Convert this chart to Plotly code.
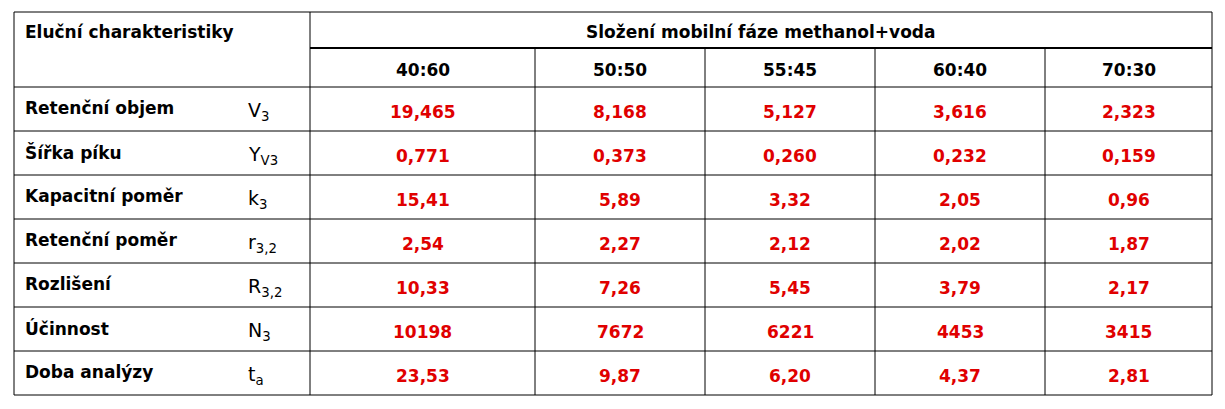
import plotly.graph_objects as go

compositions = ["40:60", "50:50", "55:45", "60:40", "70:30"]
row_names = ["Retenční objem", "Šířka píku", "Kapacitní poměr", "Retenční poměr",
             "Rozlišení", "Účinnost", "Doba analýzy"]
symbols = ["V<sub>3</sub>", "Y<sub>V3</sub>", "k<sub>3</sub>", "r<sub>3,2</sub>",
           "R<sub>3,2</sub>", "N<sub>3</sub>", "t<sub>a</sub>"]
values = [
    ["19,465", "8,168", "5,127", "3,616", "2,323"],
    ["0,771", "0,373", "0,260", "0,232", "0,159"],
    ["15,41", "5,89", "3,32", "2,05", "0,96"],
    ["2,54", "2,27", "2,12", "2,02", "1,87"],
    ["10,33", "7,26", "5,45", "3,79", "2,17"],
    ["10198", "7672", "6221", "4453", "3415"],
    ["23,53", "9,87", "6,20", "4,37", "2,81"],
]

# page has an 8px body margin, so the figure is drawn 16px smaller and shifted
OFF = 8
W, H = 1225 - 2 * OFF, 409 - 2 * OFF
col_x = [x - OFF for x in [14, 310, 535, 705, 875, 1045, 1212]]
top, mid, hdr = 12 - OFF, 48 - OFF, 87 - OFF
row_h = 44
row_y = [hdr + i * row_h for i in range(len(row_names) + 1)]
bottom = row_y[-1]

font = "DejaVu Sans"
shapes = []
def line(x0, y0, x1, y1, w=1):
    shapes.append(dict(type="line", x0=x0, y0=y0, x1=x1, y1=y1,
                       line=dict(color="black", width=w)))

line(col_x[0], top, col_x[-1], top)
line(col_x[0], bottom, col_x[-1], bottom)
line(col_x[0], top, col_x[0], bottom)
line(col_x[-1], top, col_x[-1], bottom)
line(col_x[1], top, col_x[1], bottom)
line(col_x[1], mid, col_x[-1], mid, 2)
for x in col_x[2:-1]:
    line(x, mid, x, bottom)
for y in row_y[:-1]:
    line(col_x[0], y, col_x[-1], y)

ann = []
def text(x, y, s, color="black", size=17, bold=True, xanchor="center"):
    ann.append(dict(x=x, y=y, text=f"<b>{s}</b>" if bold else s, showarrow=False,
                    xanchor=xanchor, yanchor="middle",
                    font=dict(family=font, size=size, color=color)))

text(col_x[0] + 9, top + 20, "Eluční charakteristiky", xanchor="left")
text((col_x[1] + col_x[-1]) / 2, top + 20, "Složení mobilní fáze methanol+voda")
for j, c in enumerate(compositions):
    text((col_x[j + 1] + col_x[j + 2]) / 2, (mid + hdr) / 2 + 2, c)
for i, name in enumerate(row_names):
    yc = row_y[i] + row_h / 2 - 1
    text(col_x[0] + 9, yc, name, xanchor="left")
    text(col_x[0] + 232, yc + 3, symbols[i], size=19, bold=False, xanchor="left")
    for j, v in enumerate(values[i]):
        text((col_x[j + 1] + col_x[j + 2]) / 2, yc + 4, v, color="#e00000")

fig = go.Figure()
fig.update_layout(width=W, height=H, margin=dict(l=0, r=0, t=0, b=0),
                  plot_bgcolor="white", paper_bgcolor="white",
                  shapes=shapes, annotations=ann,
                  xaxis=dict(range=[0, W], visible=False, fixedrange=True),
                  yaxis=dict(range=[H, 0], visible=False, fixedrange=True))
fig.write_html("out.html")
